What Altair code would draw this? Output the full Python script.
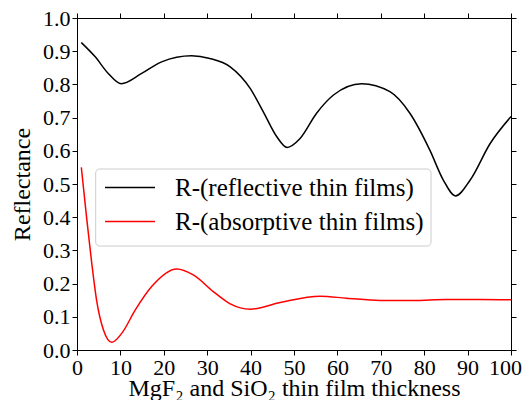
import altair as alt
import pandas as pd

# ---- data ----
black_x = [1, 4.2, 7.2, 10.2, 14.9, 19.5, 26.4, 30.6, 35.3, 39.9, 42.9, 46.0, 48.4,
           51.4, 55.2, 59.1, 65.6, 72.1, 76.7, 81.3, 84.4, 87.2, 90.6, 95.2, 100]
black_r = [0.926, 0.883, 0.833, 0.802, 0.833, 0.868, 0.886, 0.878, 0.853, 0.788, 0.718,
           0.643, 0.610, 0.637, 0.713, 0.768, 0.802, 0.778, 0.713, 0.602, 0.512, 0.464,
           0.512, 0.622, 0.703]
red_x = [1, 2.2, 3.4, 4.5, 6.1, 8.0, 10.3, 13.4, 17.2, 23, 26.8, 31.4, 35.3, 39.9,
         46.8, 56, 62.1, 69.8, 77.5, 85.2, 92.9, 100]
red_r = [0.55, 0.40, 0.261, 0.151, 0.060, 0.023, 0.050, 0.120, 0.191, 0.244, 0.226,
         0.176, 0.139, 0.123, 0.143, 0.162, 0.156, 0.149, 0.149, 0.152, 0.152, 0.151]
series_names = ["R-(reflective thin films)", "R-(absorptive thin films)"]
series_colors = ["#000000", "#ff0000"]
x_ticks = list(range(0, 101, 10))
y_ticks = [round(i * 0.1, 1) for i in range(11)]

df = pd.concat([
    pd.DataFrame({"x": black_x, "r": black_r, "series": series_names[0], "order": range(len(black_x))}),
    pd.DataFrame({"x": red_x, "r": red_r, "series": series_names[1], "order": range(len(red_x))}),
])

FONT = "Liberation Serif"
xs = alt.Scale(domain=[0, 100], nice=False, zero=False)
ys = alt.Scale(domain=[0, 1], nice=False)

common_axis = dict(domainColor="black", domainWidth=1, tickColor="black", tickWidth=1,
                   tickSize=5, grid=False, labelFont=FONT, labelFontSize=22,
                   labelColor="black", titleFont=FONT, titleFontSize=24,
                   titleColor="black", titleFontWeight="normal")

lines = alt.Chart(df).mark_line(strokeWidth=1.5, interpolate="monotone").encode(
    x=alt.X("x:Q", scale=xs, axis=alt.Axis(values=x_ticks, format="d", orient="bottom",
                                           title="MgF₂ and SiO₂ thin film thickness",
                                           labelPadding=2, titleY=45,
                                           titleBaseline="alphabetic", labelFlush=False,
                                           labelOffset={"condition": {"test": "datum.value === 100", "value": -6}, "value": 0},
                                           **common_axis)),
    y=alt.Y("r:Q", scale=ys, axis=alt.Axis(values=y_ticks, format=".1f", orient="left",
                                           title="Reflectance", labelPadding=2,
                                           titlePadding=8, labelFlush=False, **common_axis)),
    color=alt.Color("series:N", scale=alt.Scale(domain=series_names, range=series_colors),
                    legend=None),
    order="order:Q",
)

mirror = alt.Chart(df).mark_point(opacity=0).encode(
    x=alt.X("x:Q", scale=xs, axis=alt.Axis(values=x_ticks, orient="top", labels=False,
                                           title=None, **common_axis)),
    y=alt.Y("r:Q", scale=ys, axis=alt.Axis(values=y_ticks, orient="right", labels=False,
                                           title=None, **common_axis)),
)

one = pd.DataFrame({"a": [0]})
box = alt.Chart(one).mark_rect(fill="white", fillOpacity=0.8, stroke="#cccccc",
                               strokeWidth=1, cornerRadius=4).encode(
    x=alt.value(18.7), x2=alt.value(354), y=alt.value(151), y2=alt.value(228))

leg_layers = []
row_y = [169.5, 203.5]
for name, col, yy in zip(series_names, series_colors, row_y):
    leg_layers.append(alt.Chart(one).mark_rule(strokeWidth=1.5, color=col).encode(
        x=alt.value(28), x2=alt.value(78), y=alt.value(yy)))
    leg_layers.append(alt.Chart(one).mark_text(font=FONT, fontSize=25, align="left",
                                               baseline="middle", color="black").encode(
        x=alt.value(98), y=alt.value(yy), text=alt.value(name)))

chart = alt.layer(lines, mirror, box, *leg_layers).resolve_axis(
    x="independent", y="independent"
).properties(
    width=434, height=332,
    autosize=alt.AutoSizeParams(type="none"),
    padding={"left": 69, "top": 10, "right": 11, "bottom": 50},
).configure_view(stroke=None).configure(background="white")

chart.save("out.html", embed_options={"renderer": "svg", "actions": False})
